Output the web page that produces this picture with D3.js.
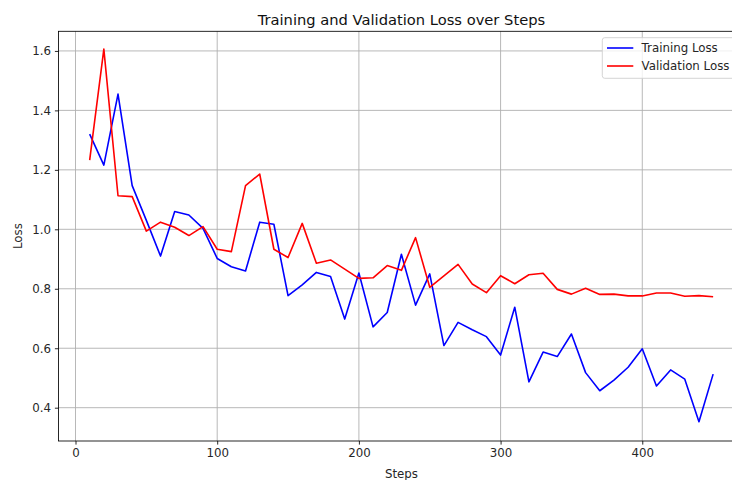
<!DOCTYPE html>
<html>
<head>
<meta charset="utf-8">
<script src="https://cdn.jsdelivr.net/npm/d3@7"></script>
<style>
  body { margin: 0; background: #fff; }
  svg { display: block; font-family: "DejaVu Sans", sans-serif; }
</style>
</head>
<body>
<svg id="chart" width="732" height="480"></svg>
<script>
// data
const steps = [10, 20, 30, 40, 50, 60, 70, 80, 90, 100, 110, 120, 130, 140, 150,
  160, 170, 180, 190, 200, 210, 220, 230, 240, 250, 260, 270, 280, 290, 300,
  310, 320, 330, 340, 350, 360, 370, 380, 390, 400, 410, 420, 430, 440, 450];

const trainLoss = [1.32, 1.216, 1.455, 1.147, 1.03, 0.91, 1.06, 1.048, 1.003, 0.902,
  0.874, 0.86, 1.024, 1.017, 0.777, 0.813, 0.855, 0.841, 0.698, 0.853,
  0.672, 0.72, 0.916, 0.745, 0.85, 0.609, 0.687, 0.662, 0.639, 0.577,
  0.738, 0.487, 0.587, 0.572, 0.648, 0.518, 0.457, 0.493, 0.536, 0.598,
  0.473, 0.527, 0.496, 0.353, 0.513];

const valLoss = [1.233, 1.606, 1.113, 1.11, 0.994, 1.024, 1.007, 0.979, 1.009, 0.933,
  0.925, 1.147, 1.186, 0.933, 0.905, 1.02, 0.886, 0.897, 0.866, 0.835,
  0.837, 0.878, 0.862, 0.972, 0.805, 0.843, 0.882, 0.816, 0.787, 0.844,
  0.817, 0.847, 0.852, 0.798, 0.782, 0.802, 0.781, 0.782, 0.776, 0.776,
  0.786, 0.786, 0.775, 0.777, 0.773];

const xTicks = [0, 100, 200, 300, 400];
const yTicks = [0.4, 0.6, 0.8, 1.0, 1.2, 1.4, 1.6];

const seriesNames = ["Training Loss", "Validation Loss"];
const seriesColors = ["blue", "red"];

const svg = d3.select("#chart");

// axes box (right part falls outside the 732px window, like the reference)
const plotLeft = 58.5, plotRight = 744.3, plotTop = 31.3, plotBottom = 441;
const fs = 11.8;

const x = d3.scaleLinear().domain([-12, 472]).range([plotLeft, plotRight]);
const y = d3.scaleLinear().domain([0.288, 1.666]).range([plotBottom, plotTop]);

// grid
const grid = svg.append("g");
grid.selectAll(".gx")
    .data(xTicks)
    .enter()
    .append("line")
    .attr("x1", d => x(d)).attr("x2", d => x(d))
    .attr("y1", plotTop).attr("y2", plotBottom)
    .attr("stroke", "#b0b0b0")
    .attr("stroke-width", 0.9);
grid.selectAll(".gy")
    .data(yTicks)
    .enter()
    .append("line")
    .attr("x1", plotLeft).attr("x2", plotRight)
    .attr("y1", d => y(d)).attr("y2", d => y(d))
    .attr("stroke", "#b0b0b0")
    .attr("stroke-width", 0.9);

// lines
const series = [trainLoss, valLoss];
const line = d3.line()
    .x((d, i) => x(steps[i]))
    .y(d => y(d));

svg.append("g")
    .selectAll("path")
    .data(series)
    .enter()
    .append("path")
    .attr("d", d => line(d))
    .attr("fill", "none")
    .attr("stroke", (d, i) => seriesColors[i])
    .attr("stroke-width", 1.6)
    .attr("stroke-linejoin", "round");

// axes
const xAxis = svg.append("g")
    .attr("transform", `translate(0, ${plotBottom})`)
    .call(d3.axisBottom(x).tickValues(xTicks).tickSize(3.6).tickPadding(3.8).tickFormat(d3.format("d")));
const yAxis = svg.append("g")
    .attr("transform", `translate(${plotLeft}, 0)`)
    .call(d3.axisLeft(y).tickValues(yTicks).tickSize(3.6).tickPadding(4).tickFormat(d3.format(".1f")));

[xAxis, yAxis].forEach(g => {
  g.select(".domain").remove();
  g.selectAll("line").attr("stroke", "#000").attr("stroke-width", 0.85);
  g.selectAll("text")
    .attr("fill", "#262626")
    .style("font-size", fs + "px")
    .style("font-family", "DejaVu Sans");
});

// spines
svg.append("rect")
    .attr("x", plotLeft).attr("y", plotTop)
    .attr("width", plotRight - plotLeft).attr("height", plotBottom - plotTop)
    .attr("fill", "none")
    .attr("stroke", "#000")
    .attr("stroke-width", 0.85);

// title and labels
svg.append("text")
    .attr("x", (plotLeft + plotRight) / 2)
    .attr("y", 24.5)
    .attr("text-anchor", "middle")
    .style("font-size", "14.7px")
    .attr("fill", "#111")
    .text("Training and Validation Loss over Steps");

svg.append("text")
    .attr("x", (plotLeft + plotRight) / 2)
    .attr("y", 477.5)
    .attr("text-anchor", "middle")
    .style("font-size", fs + "px")
    .attr("fill", "#262626")
    .text("Steps");

svg.append("text")
    .attr("transform", `translate(21.5, ${(plotTop + plotBottom) / 2}) rotate(-90)`)
    .attr("text-anchor", "middle")
    .style("font-size", fs + "px")
    .attr("fill", "#262626")
    .text("Loss");

// legend
const legend = svg.append("g").attr("transform", "translate(602.3, 37.7)");
legend.append("rect")
    .attr("width", 137)
    .attr("height", 40.6)
    .attr("rx", 2.5)
    .attr("fill", "#fff")
    .attr("fill-opacity", 0.8)
    .attr("stroke", "#d0d0d0")
    .attr("stroke-width", 0.9);

const items = legend.selectAll(".item")
    .data(seriesNames)
    .enter()
    .append("g")
    .attr("transform", (d, i) => `translate(0, ${10.3 + i * 18})`);
items.append("line")
    .attr("x1", 4.7).attr("x2", 31)
    .attr("stroke", (d, i) => seriesColors[i])
    .attr("stroke-width", 1.6);
items.append("text")
    .attr("x", 39.3)
    .attr("y", 4.3)
    .style("font-size", fs + "px")
    .attr("fill", "#262626")
    .text(d => d);
</script>
</body>
</html>
